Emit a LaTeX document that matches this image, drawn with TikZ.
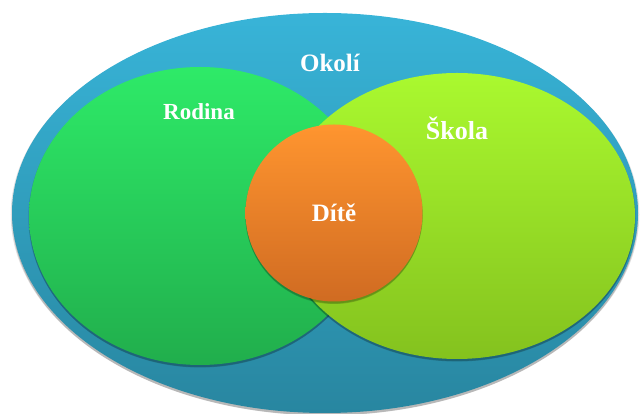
\documentclass[tikz,border=0pt]{standalone}
\usepackage{fontspec}
\setmainfont{Liberation Serif}
\usetikzlibrary{shapes.geometric,shadows}
\definecolor{blueT}{HTML}{38B4D8}
\definecolor{blueB}{HTML}{2886A0}
\definecolor{greenT}{HTML}{2EEA68}
\definecolor{greenB}{HTML}{21AE4C}
\definecolor{limeT}{HTML}{AAF92F}
\definecolor{limeB}{HTML}{84C21E}
\definecolor{orT}{HTML}{FF952F}
\definecolor{orB}{HTML}{D06B22}
\tikzset{
  blob/.style={ellipse, inner sep=0pt, outer sep=0pt, draw=none,
    general shadow={shadow xshift=0pt, shadow yshift=-2.5pt, fill=black, opacity=0.18},
    general shadow={shadow xshift=0pt, shadow yshift=-1.5pt, shadow scale=1.004, fill=black, opacity=0.12}},
  lbl/.style={text=white, inner sep=0pt}
}
\begin{document}
\begin{tikzpicture}[x=1pt,y=1pt]
\useasboundingbox (0,0) rectangle (640,414);
\node[blob, minimum width=626pt, minimum height=400pt, top color=blueT, bottom color=blueB] (okoli) at (325,201) {};
\node[blob, minimum width=342pt, minimum height=298pt, top color=greenT, bottom color=greenB] (rodina) at (200,198) {};
\node[blob, minimum width=356pt, minimum height=286pt, top color=limeT, bottom color=limeB] (skola) at (457,198) {};
\node[blob, circle, minimum size=177pt, top color=orT, bottom color=orB] (dite) at (334,201) {};
\node[lbl, font=\fontsize{25}{28}\selectfont\bfseries] (tokoli) at (330,351) {Okolí};
\node[lbl, font=\fontsize{23}{26}\selectfont\bfseries] (trodina) at (199,302) {Rodina};
\node[lbl, font=\fontsize{26}{29}\selectfont\bfseries] (tskola) at (457,286) {Škola};
\node[lbl, font=\fontsize{25}{28}\selectfont\bfseries] (tdite) at (334,201) {Dítě};
\end{tikzpicture}
\end{document}
